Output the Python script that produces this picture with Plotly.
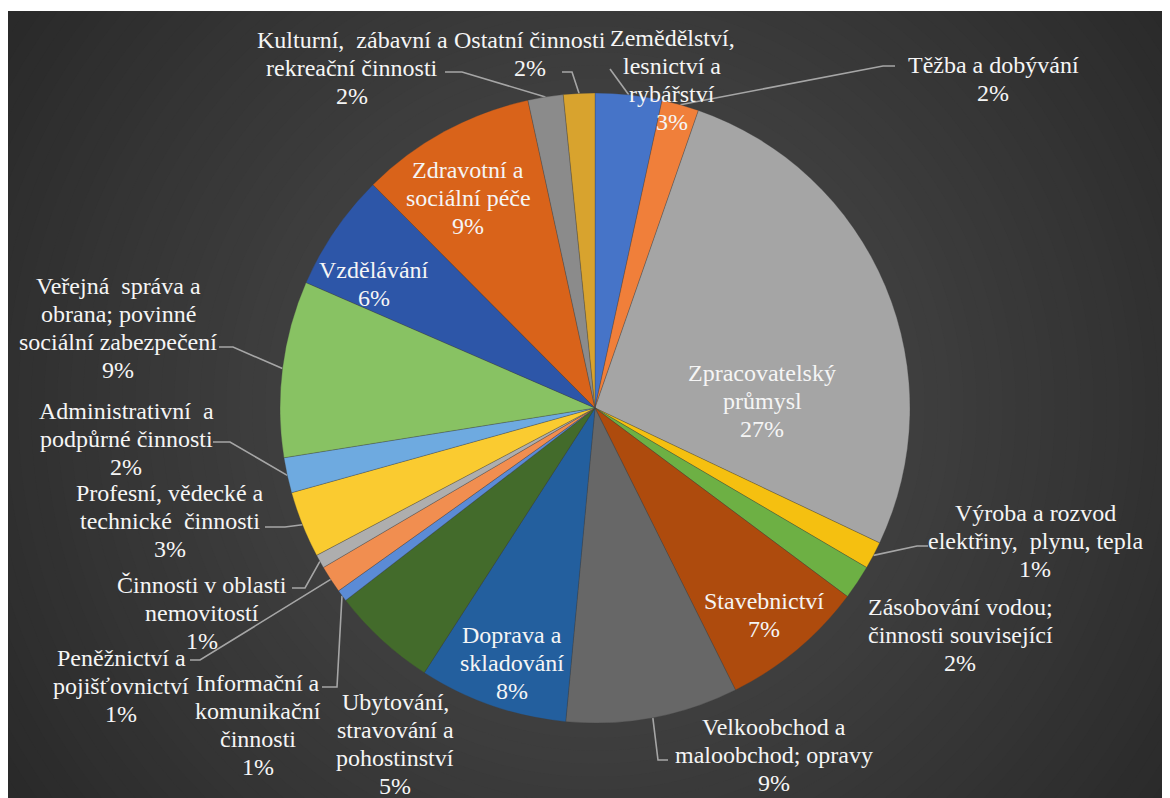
import math
import plotly.graph_objects as go

# share of employment by sector (percent)
categories = [
    "Zemědělství,\nlesnictví a\nrybářství",
    "Těžba a dobývání",
    "Zpracovatelský\nprůmysl",
    "Výroba a rozvod\nelektřiny,\u00a0 plynu, tepla",
    "Zásobování vodou;\nčinnosti související",
    "Stavebnictví",
    "Velkoobchod a\nmaloobchod; opravy",
    "Doprava a\nskladování",
    "Ubytování,\nstravování a\npohostinství",
    "Informační a\nkomunikační\nčinnosti",
    "Peněžnictví a\npojišťovnictví",
    "Činnosti v oblasti\nnemovitostí",
    "Profesní, vědecké a\ntechnické\u00a0 činnosti",
    "Administrativní\u00a0 a\npodpůrné činnosti",
    "Veřejná\u00a0 správa a\nobrana; povinné\nsociální zabezpečení",
    "Vzdělávání",
    "Zdravotní a\nsociální péče",
    "Kulturní,\u00a0 zábavní a\nrekreační činnosti",
    "Ostatní činnosti",
]
values = [3.4, 1.9, 26.6, 1.4, 1.75, 7.4, 8.8, 7.6, 5.4, 0.6,
          1.4, 0.7, 3.4, 1.8, 9.0, 6.0, 9.0, 1.8, 1.6]
colors = ["#4674C8", "#F07F3A", "#A5A5A5", "#F5C010", "#6DB044", "#AE4B0D",
          "#676767", "#235F9E", "#436B2B", "#5B8BD6", "#F18E50", "#AEAEAE",
          "#FACB30", "#6EAAE0", "#88C263", "#2D56A8", "#D9631A", "#8B8B8B",
          "#D8A32E"]

W, H = 1170, 798
OFF = 8                     # page margin around the figure
CX, CY, R = 595, 408, 315   # pie centre / radius in page pixels
LINE_H = 28
SERIF = "Liberation Serif"

# where each label sits (centre x, first line y) and its leader line (elbow, end)
label_pos = [(672, 38), (993, 65), (762, 373), (1035, 513), (960, 607),
             (764, 601), (774, 727), (512, 635), (395, 702), (258, 683),
             (121, 658), (202, 585), (170, 493), (126, 411), (118, 286),
             (374, 270), (468, 170), (352, 40), (530, 40)]
leaders = {
    0: [(610, 69)],
    1: [(883, 66), (895, 66)],
    3: [(917, 546), (928, 546)],
    6: [(658, 760), (668, 760)],
    9: [(337, 687), (322, 687)],
    10: [(200, 660), (190, 660)],
    11: [(305, 588), (292, 588)],
    12: [(285, 527), (265, 527)],
    13: [(230, 442), (213, 442)],
    14: [(233, 347), (219, 347)],
    17: [(462, 72), (445, 72)],
    18: [(572, 72), (562, 72)],
}

total = sum(values)
pcts = [f"{round(v / total * 100)}%" for v in values]
mids = []
acc = 0
for v in values:
    mids.append((acc + v / 2) / total * 360)
    acc += v


def rim(i):
    a = math.radians(mids[i])
    return CX + R * math.sin(a), CY - R * math.cos(a)


fig = go.Figure()

# leader lines
lx, ly = [], []
for i, pts in leaders.items():
    x0, y0 = rim(i)
    lx += [x0] + [p[0] for p in pts] + [None]
    ly += [y0] + [p[1] for p in pts] + [None]
fig.add_trace(go.Scatter(x=lx, y=ly, mode="lines", hoverinfo="skip",
                         line=dict(color="#A6A6A6", width=1.6), showlegend=False))

fig.add_trace(go.Pie(
    labels=[c.replace("\n", " ").replace("\u00a0", "") for c in categories],
    values=values, sort=False, direction="clockwise", rotation=0,
    marker=dict(colors=colors, line=dict(color="rgba(60,60,60,0.5)", width=0.6)),
    textinfo="none", hoverinfo="label+percent", showlegend=False,
    domain=dict(x=[(CX - OFF - R) / W, (CX - OFF + R) / W],
                y=[(H + OFF - CY - R) / H, (H + OFF - CY + R) / H]),
))

# labels, one annotation per text line
for i, cat in enumerate(categories):
    lines = cat.split("\n") + [pcts[i]]
    cx, y0 = label_pos[i]
    for k, t in enumerate(lines):
        fig.add_annotation(x=cx, y=y0 + k * LINE_H, xref="x", yref="y", text=t,
                           showarrow=False,
                           font=dict(family=SERIF, size=24, color="#F5F5F5"),
                           xanchor="center", yanchor="middle")

# dark radial background
shapes = [dict(type="rect", xref="x", yref="y", x0=0, x1=W + OFF, y0=0, y1=H + OFF,
               fillcolor="#292929", line=dict(width=0), layer="below")]
r = 720
while r >= 330:
    lvl = int(round(41 + (720 - r) / 390 * 21))
    shapes.append(dict(type="circle", xref="x", yref="y", x0=CX - r, x1=CX + r,
                       y0=CY - r, y1=CY + r, fillcolor=f"rgb({lvl},{lvl},{lvl})",
                       line=dict(width=0), layer="below"))
    r -= 13

fig.update_layout(
    width=W, height=H, margin=dict(l=0, r=0, t=0, b=0),
    font=dict(family=SERIF, color="#F5F5F5"),
    paper_bgcolor="white", plot_bgcolor="#292929",
    xaxis=dict(range=[OFF, OFF + W], domain=[0, 1], visible=False, fixedrange=True),
    yaxis=dict(range=[OFF + H, 11], domain=[0, (H + OFF - 11) / H],
               visible=False, fixedrange=True),
    shapes=shapes, showlegend=False,
)

fig.write_html("out.html")
